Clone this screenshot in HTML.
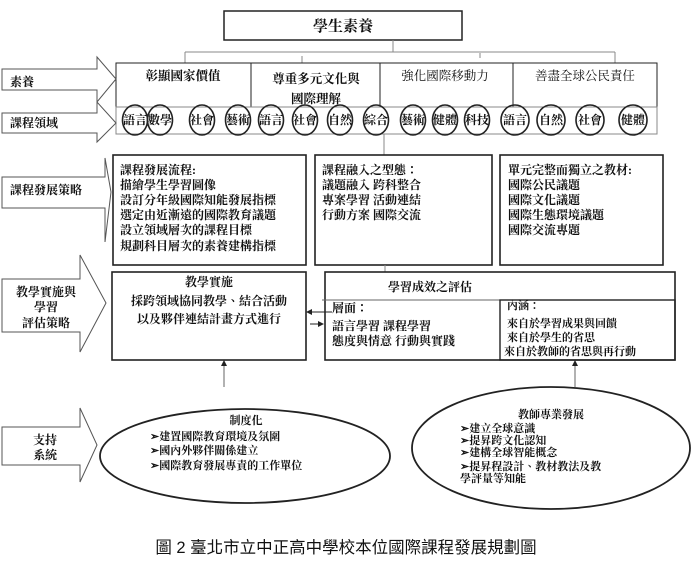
<!DOCTYPE html>
<html><head><meta charset="utf-8"><style>
html,body{margin:0;padding:0;background:#fff;}
svg{display:block;}
text{font-family:"Liberation Serif","Noto Serif CJK TC","Noto Serif CJK SC",serif;fill:#111;font-size:12px;}
.b{font-weight:bold;}
.s{font-size:11px;}
</style></head><body>
<svg width="691" height="570" viewBox="0 0 691 570" xmlns="http://www.w3.org/2000/svg">
<g fill="none" stroke="#222" stroke-width="1">
<rect x="224" y="11" width="238" height="29" stroke-width="1.5"/>
<line x1="393" y1="40" x2="393" y2="52" stroke="#888"/>
<line x1="185" y1="52" x2="615" y2="52" stroke="#888"/>
<line x1="185" y1="52" x2="185" y2="63" stroke="#888"/>
<line x1="302" y1="56" x2="302" y2="63" stroke="#888"/>
<line x1="480" y1="53" x2="480" y2="58" stroke="#888"/>
<line x1="615" y1="52" x2="615" y2="63" stroke="#888"/>
<rect x="116" y="63" width="135" height="44"/>
<rect x="251" y="63" width="129" height="44"/>
<rect x="380" y="63" width="133" height="44"/>
<rect x="513" y="63" width="144" height="44"/>
<rect x="116" y="107" width="541" height="27" stroke="#888"/>
<line x1="384" y1="134" x2="384" y2="155" stroke="#888"/>
<g stroke="#222" stroke-width="1.6">
<ellipse cx="135" cy="120" rx="12.5" ry="15"/>
<ellipse cx="160" cy="120" rx="12.5" ry="15"/>
<ellipse cx="202" cy="120" rx="12.5" ry="15"/>
<ellipse cx="238" cy="120" rx="12.5" ry="15"/>
<ellipse cx="271" cy="120" rx="12.5" ry="15"/>
<ellipse cx="305" cy="120" rx="12.5" ry="15"/>
<ellipse cx="340" cy="120" rx="12.5" ry="15"/>
<ellipse cx="376" cy="120" rx="12.5" ry="15"/>
<ellipse cx="413" cy="120" rx="12.5" ry="15"/>
<ellipse cx="445" cy="120" rx="12.5" ry="15"/>
<ellipse cx="477" cy="120" rx="12.5" ry="15"/>
<ellipse cx="515" cy="120" rx="14" ry="15"/>
<ellipse cx="551" cy="120" rx="14" ry="15"/>
<ellipse cx="590" cy="120" rx="14" ry="15"/>
<ellipse cx="633" cy="120" rx="14" ry="15"/>
</g>
<path d="M2 69 H97 V57 L116 79 L97 102 V90 H2 Z" stroke="#555"/>
<path d="M2 113 H97 V102 L116 123 L97 142 V133 H2 Z" stroke="#555"/>
<path d="M2 177 H105 V158 L111 192 L105 242 V208 H2 Z" stroke="#555"/>
<path d="M2 279 H80 V255 L106 303 L80 352 V332 H2 Z" stroke="#555"/>
<path d="M2 427 H80 V408 L97 445 L80 482 V465 H2 Z" stroke="#555"/>
<rect x="113" y="155" width="193" height="110" stroke-width="1.6"/>
<rect x="315" y="155" width="177" height="110" stroke-width="1.6"/>
<rect x="500" y="155" width="163" height="110" stroke-width="1.6"/>
<line x1="385" y1="265" x2="385" y2="272" stroke="#888"/>
<rect x="112" y="272" width="194" height="88" stroke-width="1.6"/>
<rect x="325" y="272" width="350" height="88" stroke-width="1.6"/>
<line x1="322" y1="300" x2="675" y2="300" stroke="#666"/>
<rect x="500" y="300" width="175" height="60" stroke-width="1.4"/>
<line x1="332" y1="312" x2="310" y2="312"/>
<line x1="310" y1="324" x2="320" y2="324"/>
<line x1="224" y1="365" x2="224" y2="387" stroke="#666"/>
<line x1="575" y1="365" x2="575" y2="387" stroke="#666"/>
<ellipse cx="245" cy="456" rx="145" ry="47" stroke-width="1.8"/>
<ellipse cx="551" cy="448" rx="139" ry="61" stroke-width="1.8"/>
</g>
<g fill="#222">
<path d="M306 312 L312 309 L312 315 Z"/>
<path d="M324 324 L318 321 L318 327 Z"/>
<path d="M224 360 L221 366 L227 366 Z"/>
<path d="M575 360 L572 366 L578 366 Z"/>
</g>
<text x="343" y="31" text-anchor="middle" class="b" style="font-size:15px">學生素養</text>
<text x="183" y="80" text-anchor="middle" class="b" style="font-size:12.5px">彰顯國家價值</text>
<text x="316" y="83" text-anchor="middle" class="b" style="font-size:12.5px">尊重多元文化與</text>
<text x="316" y="103" text-anchor="middle" class="b" style="font-size:12.5px">國際理解</text>
<text x="445" y="80" text-anchor="middle" style="font-size:12.5px">強化國際移動力</text>
<text x="585" y="80" text-anchor="middle" style="font-size:12.5px">善盡全球公民責任</text>
<g style="font-size:9px" text-anchor="middle" class="b">
<text x="135" y="124">語言</text><text x="160" y="124">數學</text><text x="202" y="124">社會</text><text x="238" y="124">藝術</text>
<text x="271" y="124">語言</text><text x="305" y="124">社會</text><text x="340" y="124">自然</text><text x="376" y="124">綜合</text>
<text x="413" y="124">藝術</text><text x="445" y="124">健體</text><text x="477" y="124">科技</text><text x="515" y="124">語言</text>
<text x="551" y="124">自然</text><text x="590" y="124">社會</text><text x="633" y="124">健體</text>
</g>
<text x="10" y="86" class="b">素養</text>
<text x="10" y="127" class="b">課程領域</text>
<text x="10" y="194" class="b">課程發展策略</text>
<text x="46" y="296" text-anchor="middle" class="b">教學實施與</text>
<text x="46" y="311" text-anchor="middle" class="b">學習</text>
<text x="46" y="327" text-anchor="middle" class="b">評估策略</text>
<text x="45" y="444" text-anchor="middle" class="b">支持</text>
<text x="45" y="459" text-anchor="middle" class="b">系統</text>
<g class="b">
<text x="120" y="174">課程發展流程:</text>
<text x="120" y="189">描繪學生學習圖像</text>
<text x="120" y="204">設訂分年級國際知能發展指標</text>
<text x="120" y="219">選定由近漸遠的國際教育議題</text>
<text x="120" y="234">設立領域層次的課程目標</text>
<text x="120" y="250">規劃科目層次的素養建構指標</text>
<text x="322" y="174">課程融入之型態：</text>
<text x="322" y="189">議題融入  跨科整合</text>
<text x="322" y="204">專案學習  活動連結</text>
<text x="322" y="219">行動方案  國際交流</text>
<text x="508" y="174">單元完整而獨立之教材:</text>
<text x="508" y="189">國際公民議題</text>
<text x="508" y="204">國際文化議題</text>
<text x="508" y="219">國際生態環境議題</text>
<text x="508" y="234">國際交流專題</text>
<text x="209" y="286" text-anchor="middle">教學實施</text>
<text x="209" y="305" text-anchor="middle">採跨領域協同教學、結合活動</text>
<text x="209" y="323" text-anchor="middle">以及夥伴連結計畫方式進行</text>
<text x="430" y="291" text-anchor="middle">學習成效之評估</text>
<text x="332" y="312">層面：</text>
<text x="332" y="330">語言學習  課程學習</text>
<text x="332" y="345">態度與情意 行動與實踐</text>
<text x="507" y="309" class="s">內涵：</text>
<text x="507" y="327" class="s">來自於學習成果與回饋</text>
<text x="507" y="341" class="s">來自於學生的省思</text>
<text x="504" y="355" class="s">來自於教師的省思與再行動</text>
<text x="246" y="424" text-anchor="middle" class="s">制度化</text>
<text x="150" y="440" class="s">➢建置國際教育環境及氛圍</text>
<text x="150" y="454" class="s">➢國內外夥伴關係建立</text>
<text x="150" y="469" class="s">➢國際教育發展專責的工作單位</text>
<text x="551" y="418" text-anchor="middle" class="s">教師專業發展</text>
<text x="460" y="432" class="s">➢建立全球意識</text>
<text x="460" y="444" class="s">➢提昇跨文化認知</text>
<text x="460" y="456" class="s">➢建構全球智能概念</text>
<text x="460" y="470" class="s">➢提昇程設計、教材教法及教</text>
<text x="460" y="482" class="s">學評量等知能</text>
</g>
<text x="346" y="553" text-anchor="middle" style="font-family:'Liberation Sans','Noto Sans CJK TC',sans-serif;font-size:16.5px">圖 2  臺北市立中正高中學校本位國際課程發展規劃圖</text>
</svg>
</body></html>
